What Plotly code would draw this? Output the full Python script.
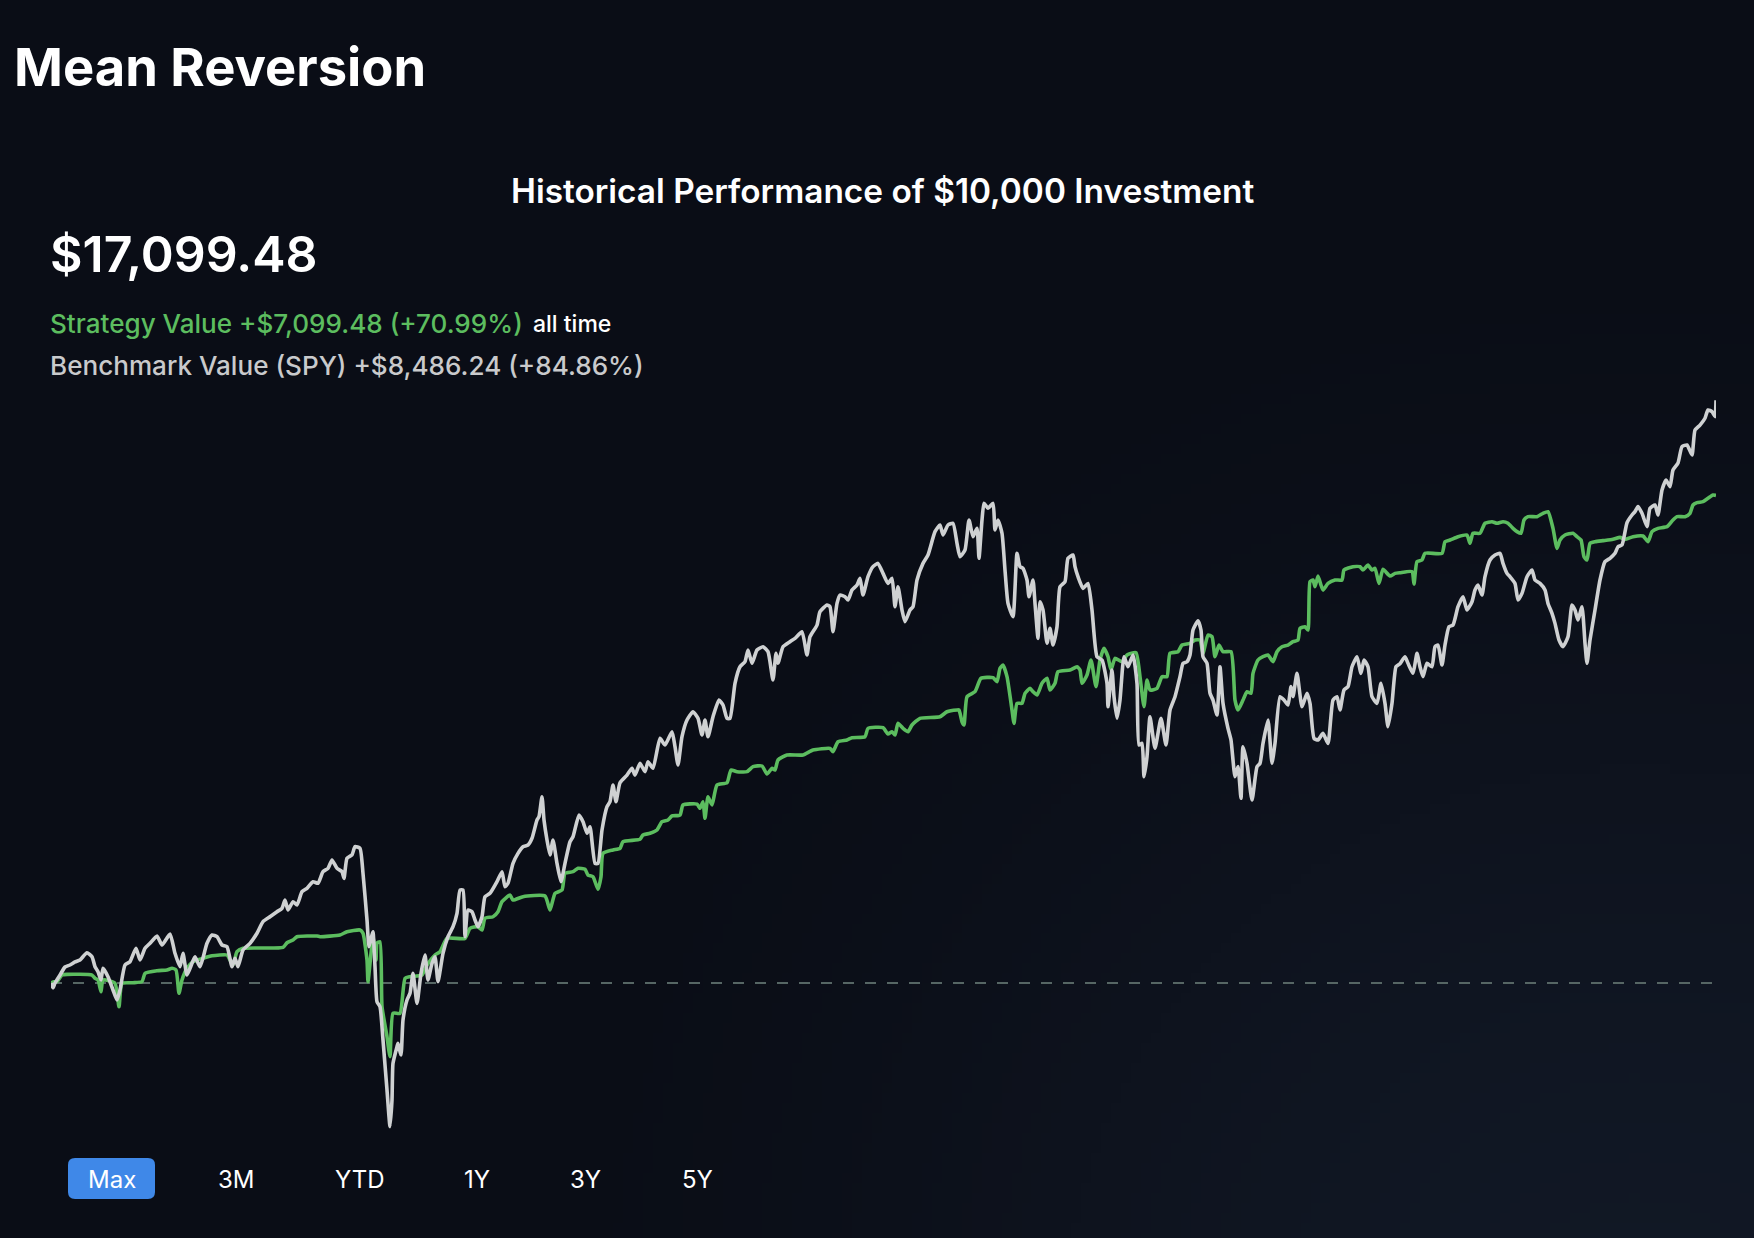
import base64
import struct
import zlib
from datetime import date, timedelta

import plotly.graph_objects as go

# ---------------- data ----------------
START = date(2019, 5, 1)
INITIAL = 10000

bench_days = [0, 2, 4, 9, 14, 19, 24, 29, 36, 41, 44, 47, 50, 52, 57, 62, 66, 69, 74, 79, 85, 89, 94, 99, 106, 111,
              119, 124, 129, 132, 136, 141, 144, 149, 156, 161, 166, 171, 176, 181, 184, 187, 192, 199, 206, 212, 219,
              226, 231, 234, 237, 242, 246, 251, 256, 262, 267, 272, 277, 281, 286, 291, 293, 296, 301, 304, 309, 312,
              316, 318, 321, 322, 324, 326, 329, 332, 336, 339, 341, 342, 346, 347, 350, 352, 356, 359, 362, 366, 370,
              374, 377, 381, 384, 387, 392, 397, 402, 406, 409, 412, 414, 417, 421, 424, 427, 431, 434, 439, 446, 451,
              454, 457, 462, 467, 472, 477, 481, 486, 488, 491, 493, 496, 499, 502, 506, 510, 514, 519, 522, 528, 532,
              536, 539, 544, 547, 551, 556, 559, 562, 565, 569, 576, 581, 584, 589, 594, 597, 602, 609, 614, 621, 624,
              627, 631, 636, 642, 647, 651, 654, 657, 662, 668, 672, 676, 679, 684, 689, 694, 697, 701, 706, 712, 717,
              722, 725, 727, 732, 739, 744, 751, 756, 759, 766, 769, 776, 779, 782, 786, 789, 794, 797, 801, 806, 809,
              812, 817, 822, 827, 832, 837, 841, 844, 847, 851, 854, 859, 862, 866, 872, 877, 884, 889, 892, 897, 902,
              906, 909, 914, 918, 922, 926, 928, 931, 933, 937, 942, 944, 947, 951, 954, 957, 962, 966, 969, 972, 976,
              978, 982, 984, 987, 989, 992, 996, 999, 1002, 1006, 1009, 1014, 1017, 1022, 1024, 1027, 1032, 1037,
              1041, 1046, 1051, 1056, 1057, 1061, 1063, 1066, 1069, 1073, 1077, 1082, 1086, 1088, 1091, 1093, 1096,
              1099, 1104, 1110, 1115, 1119, 1124, 1129, 1132, 1136, 1139, 1142, 1147, 1150, 1152, 1156, 1159, 1162,
              1166, 1169, 1172, 1177, 1180, 1184, 1187, 1190, 1192, 1196, 1201, 1206, 1209, 1212, 1217, 1221, 1224,
              1229, 1233, 1237, 1240, 1242, 1246, 1251, 1256, 1259, 1263, 1267, 1272, 1277, 1282, 1286, 1289, 1293,
              1297, 1301, 1306, 1310, 1313, 1317, 1321, 1326, 1330, 1334, 1337, 1341, 1345, 1349, 1354, 1357, 1362,
              1366, 1369, 1372, 1376, 1381, 1384, 1387, 1391, 1394, 1398, 1402, 1407, 1412, 1416, 1421, 1424, 1427,
              1431, 1434, 1439, 1444, 1449, 1452, 1456, 1459, 1464, 1467, 1471, 1476, 1481, 1484, 1489, 1494, 1497,
              1501, 1504, 1508, 1512, 1517, 1521, 1524, 1527, 1531, 1534, 1536, 1539, 1544, 1549, 1554, 1559, 1564,
              1567, 1571, 1576, 1581, 1584, 1587, 1591, 1596, 1599, 1604, 1607, 1611, 1615, 1619, 1622, 1627, 1631,
              1636, 1641, 1644, 1649, 1654, 1657, 1661, 1664, 1665]
bench_vals = [10000, 9930, 10000, 10116, 10233, 10262, 10306, 10335, 10441, 10383, 10237, 10165, 10044, 10214, 10092,
              9898, 9752, 9898, 10262, 10310, 10505, 10335, 10505, 10578, 10684, 10553, 10713, 10432, 10237, 10432,
              10116, 10287, 10383, 10237, 10578, 10699, 10674, 10553, 10528, 10237, 10360, 10237, 10480, 10578, 10724,
              10893, 10965, 11038, 11087, 11208, 11063, 11184, 11136, 11329, 11379, 11475, 11452, 11621, 11670, 11791,
              11670, 11621, 11524, 11816, 11864, 11985, 11961, 11597, 10917, 10528, 10699, 10747, 10237, 9728, 9655,
              9170, 8442, 7908, 8296, 8830, 9073, 9122, 8952, 9461, 9752, 9850, 10141, 9704, 10141, 10408, 10044,
              10287, 10383, 10019, 10432, 10674, 10820, 11015, 11354, 11354, 10674, 11063, 11038, 10917, 10820, 10965,
              11257, 11306, 11475, 11621, 11402, 11452, 11743, 11888, 11985, 12009, 12107, 12373, 12421, 12712, 12373,
              12082, 11864, 12082, 11743, 11475, 11743, 12057, 12130, 12446, 12349, 12180, 12276, 11743, 11743, 12228,
              12567, 12640, 12883, 12640, 12916, 13028, 13126, 13028, 13198, 13077, 13222, 13126, 13563, 13465, 13659,
              13441, 13174, 13586, 13829, 13950, 13854, 13611, 13829, 13586, 13877, 14120, 14048, 13854, 13854, 14364,
              14605, 14678, 14848, 14655, 14848, 14897, 14824, 14412, 14800, 14655, 14897, 14970, 15018, 15115, 14776,
              15042, 15212, 15406, 15504, 15479, 15115, 15527, 15649, 15625, 15576, 15722, 15795, 15892, 15649, 15916,
              16062, 16110, 15964, 15818, 15892, 15479, 15770, 15431, 15261, 15431, 15479, 15868, 16110, 16232, 16572,
              16669, 16523, 16669, 16694, 16402, 16207, 16305, 16742, 16499, 16620, 16184, 16742, 16984, 16912, 16984,
              16596, 16742, 16548, 16013, 15527, 15333, 16256, 16062, 16038, 15868, 15625, 15868, 15527, 15018, 15552,
              15431, 14946, 15164, 14921, 15188, 15770, 15843, 16184, 16232, 16062, 15916, 15746, 15818, 15431, 14751,
              14703, 14364, 14023, 14557, 14169, 13854, 14120, 14751, 14605, 14776, 14364, 13465, 13489, 13004, 13295,
              13877, 13417, 13854, 13465, 13975, 14169, 14460, 14655, 14678, 14776, 15140, 15275, 15140, 14751, 14655,
              14218, 14120, 13902, 14605, 14072, 13708, 13538, 13004, 13150, 12689, 13441, 13198, 12664, 13150, 13198,
              13489, 13829, 13198, 13489, 14169, 14120, 14048, 14315, 14169, 14509, 14023, 14218, 14072, 13563, 13538,
              13635, 13489, 14120, 14169, 13975, 14266, 14315, 14605, 14751, 14509, 14703, 14605, 14169, 14072, 14364,
              14072, 13732, 14072, 14605, 14650, 14751, 14655, 14509, 14800, 14605, 14460, 14655, 14605, 14897, 14921,
              14630, 14921, 15188, 15212, 15479, 15625, 15431, 15552, 15722, 15795, 15649, 15916, 16159, 16232, 16256,
              16110, 15964, 15916, 15818, 15576, 15673, 15916, 16013, 15868, 15818, 15722, 15527, 15382, 15236, 14994,
              14897, 15042, 15504, 15431, 15285, 15479, 14946, 14655, 14994, 15431, 15868, 16135, 16184, 16256, 16353,
              16378, 16702, 16814, 16863, 16936, 16839, 16645, 16912, 16960, 16814, 17178, 17324, 17227, 17470, 17571,
              17810, 17834, 17688, 18052, 18124, 18223, 18344, 18320, 18247, 18486.24]

strat_days = [0, 3, 6, 11, 16, 41, 44, 47, 50, 52, 64, 68, 71, 82, 91, 94, 106, 116, 121, 125, 128, 131, 136, 142, 152,
              161, 176, 179, 182, 186, 192, 232, 236, 242, 246, 266, 269, 289, 296, 309, 312, 316, 317, 320, 322, 325,
              326, 329, 331, 336, 339, 342, 349, 354, 359, 371, 376, 384, 389, 396, 414, 419, 427, 431, 434, 442, 447,
              451, 459, 462, 472, 494, 499, 504, 511, 514, 522, 527, 534, 537, 542, 547, 550, 552, 562, 569, 572, 589,
              592, 599, 606, 611, 617, 621, 629, 632, 646, 649, 652, 654, 657, 661, 666, 676, 680, 686, 696, 702, 711,
              716, 721, 724, 727, 736, 752, 762, 779, 782, 787, 796, 801, 814, 817, 832, 837, 841, 844, 847, 852, 857,
              861, 869, 889, 896, 906, 908, 911, 913, 916, 924, 930, 942, 946, 949, 952, 956, 961, 963, 966, 971, 974,
              979, 982, 986, 991, 996, 999, 1004, 1007, 1019, 1026, 1029, 1031, 1036, 1040, 1045, 1049, 1053, 1057,
              1060, 1064, 1071, 1076, 1085, 1089, 1093, 1096, 1099, 1106, 1111, 1116, 1119, 1127, 1131, 1139, 1144,
              1149, 1152, 1157, 1161, 1164, 1168, 1172, 1180, 1184, 1187, 1192, 1196, 1200, 1202, 1207, 1212, 1217,
              1222, 1226, 1231, 1237, 1242, 1247, 1249, 1254, 1257, 1259, 1262, 1264, 1267, 1270, 1272, 1277, 1284,
              1291, 1293, 1302, 1309, 1312, 1317, 1321, 1324, 1328, 1332, 1339, 1344, 1349, 1361, 1363, 1366, 1371,
              1374, 1391, 1394, 1399, 1407, 1416, 1419, 1422, 1429, 1434, 1441, 1446, 1452, 1457, 1462, 1466, 1470,
              1473, 1477, 1486, 1492, 1497, 1502, 1506, 1509, 1514, 1522, 1526, 1530, 1533, 1536, 1539, 1544, 1552,
              1562, 1569, 1574, 1582, 1592, 1597, 1601, 1607, 1616, 1622, 1626, 1634, 1639, 1642, 1646, 1652, 1657,
              1662, 1665]
strat_vals = [10000, 10019, 10019, 10116, 10126, 10116, 10068, 10044, 9873, 10044, 9995, 9655, 9995, 10004, 10019,
              10141, 10179, 10189, 10214, 10189, 9850, 10044, 10214, 10310, 10360, 10397, 10408, 10335, 10262, 10456,
              10505, 10519, 10587, 10626, 10674, 10684, 10674, 10699, 10747, 10772, 10724, 10335, 10019, 10432, 10674,
              10335, 10578, 10601, 9655, 9218, 8927, 9559, 9559, 10068, 10092, 10116, 10262, 10408, 10456, 10650,
              10650, 10796, 10820, 10772, 10942, 10965, 11038, 11184, 11281, 11208, 11257, 11267, 11063, 11306, 11354,
              11597, 11621, 11670, 11655, 11572, 11548, 11364, 11548, 11888, 11937, 11961, 12057, 12092, 12155, 12180,
              12228, 12349, 12373, 12432, 12446, 12592, 12606, 12544, 12640, 12398, 12712, 12592, 12883, 12916, 13101,
              13077, 13077, 13150, 13160, 13043, 13126, 13101, 13247, 13320, 13320, 13392, 13417, 13368, 13513, 13538,
              13572, 13586, 13708, 13718, 13626, 13659, 13611, 13781, 13708, 13659, 13757, 13854, 13877, 13950, 13975,
              13975, 13805, 13757, 14169, 14242, 14436, 14446, 14387, 14582, 14630, 14460, 13975, 13781, 14072, 14072,
              14218, 14291, 14242, 14193, 14364, 14436, 14266, 14364, 14533, 14557, 14605, 14557, 14364, 14485, 14703,
              14315, 14703, 14873, 14751, 14557, 14727, 14678, 14776, 14809, 14460, 14023, 14412, 14266, 14291, 14460,
              14460, 14800, 14824, 14921, 14946, 14994, 14994, 14800, 15067, 15042, 14751, 14921, 14824, 14824, 14120,
              13975, 14120, 14242, 14218, 14509, 14703, 14751, 14776, 14678, 14824, 14897, 14921, 14970, 14994, 15164,
              15188, 15139, 15843, 15868, 15770, 15926, 15794, 15722, 15818, 15868, 15868, 16013, 16062, 16062, 16013,
              16086, 16013, 16038, 15818, 16023, 15926, 15964, 15974, 15989, 15809, 16135, 16159, 16256, 16256, 16426,
              16450, 16499, 16523, 16402, 16548, 16548, 16694, 16717, 16694, 16717, 16694, 16620, 16572, 16548, 16742,
              16790, 16790, 16839, 16863, 16620, 16329, 16450, 16523, 16548, 16499, 16450, 16207, 16159, 16402, 16426,
              16441, 16460, 16489, 16460, 16499, 16509, 16426, 16572, 16620, 16645, 16742, 16790, 16790, 16839, 16960,
              16994, 17009, 17057, 17106, 17099.48]

page_title = "Mean Reversion"
chart_title = "Historical Performance of $10,000 Investment"
headline = "$17,099.48"
strategy_text = "Strategy Value +$7,099.48 (+70.99%)"
strategy_suffix = "all time"
benchmark_text = "Benchmark Value (SPY) +$8,486.24 (+84.86%)"
range_labels = ["Max", "3M", "YTD", "1Y", "3Y", "5Y"]

# ---------------- styling ----------------
W, H = 1754, 1238
BG = "#0a0d16"
GREEN = "#5cbd5f"
WHITE_LINE = "#cfd1d2"
FONT = "Inter"


def fx(p):
    return p / W


def fy(p):
    return 1 - p / H


def gradient_png(w, h):
    base = (10, 13, 22)
    glow = (17, 24, 37)
    cx, cy, r = 0.93 * w, 1.08 * h, 0.66 * w
    rows = []
    for j in range(h):
        row = bytearray([0])
        for i in range(w):
            d = ((i - cx) ** 2 + (j - cy) ** 2) ** 0.5 / r
            t = max(0.0, 1.0 - d)
            t = t * t * (3 - 2 * t)
            row += bytes(int(round(base[k] + (glow[k] - base[k]) * t)) for k in range(3))
        rows.append(bytes(row))
    raw = b"".join(rows)

    def chunk(tag, data):
        return (struct.pack(">I", len(data)) + tag + data
                + struct.pack(">I", zlib.crc32(tag + data) & 0xFFFFFFFF))

    png = (b"\x89PNG\r\n\x1a\n"
           + chunk(b"IHDR", struct.pack(">IIBBBBB", w, h, 8, 2, 0, 0, 0))
           + chunk(b"IDAT", zlib.compress(raw, 9))
           + chunk(b"IEND", b""))
    return "data:image/png;base64," + base64.b64encode(png).decode()


bench_x = [START + timedelta(days=d) for d in bench_days]
strat_x = [START + timedelta(days=d) for d in strat_days]
x_end = START + timedelta(days=max(bench_days[-1], strat_days[-1]))

fig = go.Figure()
fig.add_trace(go.Scatter(x=strat_x, y=strat_vals, mode="lines", name="Strategy",
                         line=dict(color=GREEN, width=3.6, shape="spline", smoothing=0.5), hoverinfo="skip"))
fig.add_trace(go.Scatter(x=bench_x, y=bench_vals, mode="lines", name="Benchmark (SPY)",
                         line=dict(color=WHITE_LINE, width=3.6, shape="spline", smoothing=0.5), hoverinfo="skip"))

shapes = [
    dict(type="line", xref="x", yref="y", x0=START, x1=x_end, y0=INITIAL, y1=INITIAL,
         line=dict(color="#566664", width=2, dash="11px,11px"), layer="below"),
]

# rounded "Max" button
bx0, bx1, by0, by1, rr = 68, 155, 1158, 1199, 7
path = (f"M {fx(bx0 + rr)} {fy(by0)} L {fx(bx1 - rr)} {fy(by0)} "
        f"Q {fx(bx1)} {fy(by0)} {fx(bx1)} {fy(by0 + rr)} L {fx(bx1)} {fy(by1 - rr)} "
        f"Q {fx(bx1)} {fy(by1)} {fx(bx1 - rr)} {fy(by1)} L {fx(bx0 + rr)} {fy(by1)} "
        f"Q {fx(bx0)} {fy(by1)} {fx(bx0)} {fy(by1 - rr)} L {fx(bx0)} {fy(by0 + rr)} "
        f"Q {fx(bx0)} {fy(by0)} {fx(bx0 + rr)} {fy(by0)} Z")
shapes.append(dict(type="path", xref="paper", yref="paper", path=path,
                   fillcolor="#3f88e8", line=dict(width=0), layer="above"))


def note(text, x, y, size, color, weight, xanchor="left"):
    return dict(text=text, xref="paper", yref="paper", x=fx(x), y=fy(y), xanchor=xanchor,
                yanchor="middle", showarrow=False,
                font=dict(family=FONT, size=size, color=color, weight=weight))


annotations = [
    note(page_title, 12, 67, 52.5, "#ffffff", 700),
    note(chart_title, 883, 191, 33.4, "#ffffff", 600, "center"),
    note(headline, 48, 254, 50, "#ffffff", 600),
    note(strategy_text, 48, 323, 26.1, GREEN, 500),
    note(strategy_suffix, 531, 324, 23, "#ffffff", 500),
    note(benchmark_text, 48, 365, 26.1, "#c9cacc", 500),
]
label_centers = [112, 237, 360, 477, 585, 697]
for lab, cxp in zip(range_labels, label_centers):
    annotations.append(note(lab, cxp, 1179, 24, "#ffffff", 400, "center"))

fig.update_layout(
    width=W, height=H,
    margin=dict(l=0, r=0, t=0, b=0),
    paper_bgcolor=BG, plot_bgcolor="rgba(0,0,0,0)",
    showlegend=False,
    xaxis=dict(domain=[fx(51), fx(1716)], range=[START, x_end], visible=False, showgrid=False, zeroline=False),
    yaxis=dict(domain=[fy(1140), fy(380)], range=[7714, 18780], visible=False, showgrid=False, zeroline=False),
    shapes=shapes,
    annotations=annotations,
    images=[dict(source=gradient_png(176, 124), xref="paper", yref="paper", x=0, y=1, sizex=1, sizey=1,
                 xanchor="left", yanchor="top", sizing="stretch", layer="below")],
)

fig.write_html("out.html", config={"displayModeBar": False},
               post_script="document.body.style.margin='0';document.body.style.background='#0a0d16';")
